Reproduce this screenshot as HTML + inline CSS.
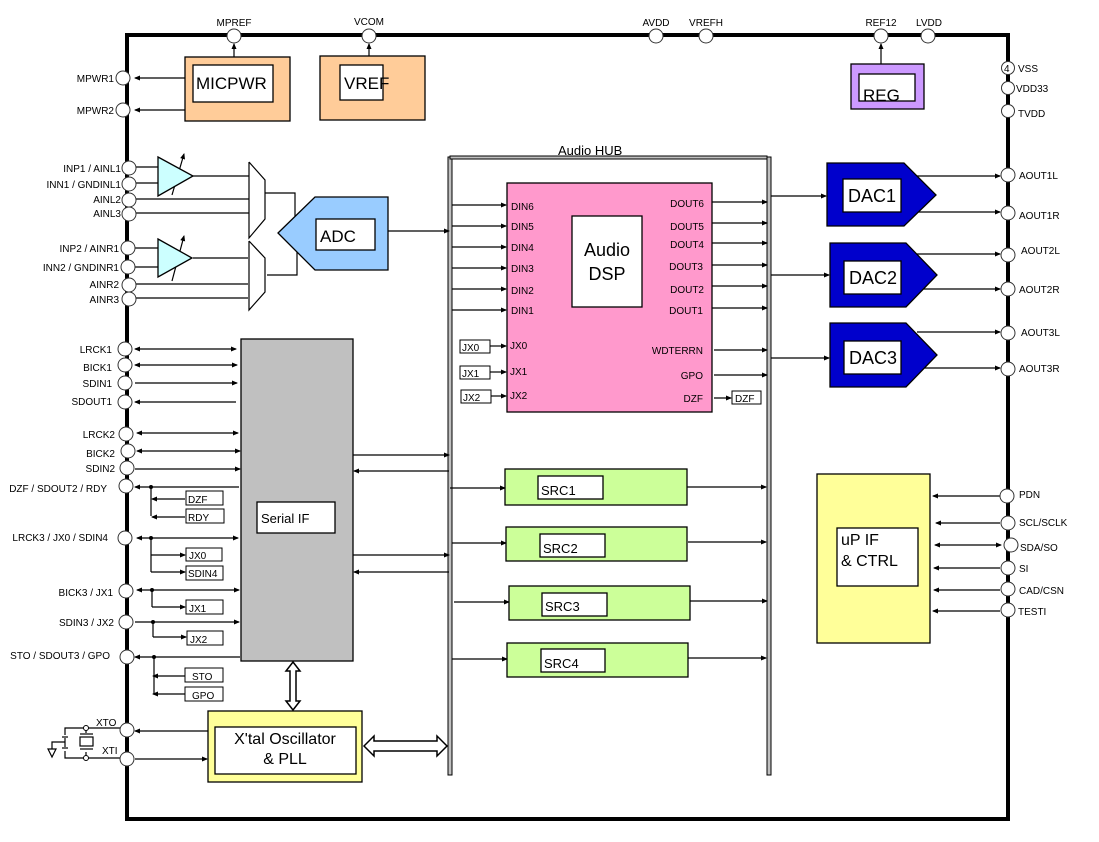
<!DOCTYPE html>
<html><head><meta charset="utf-8"><style>
html,body{margin:0;padding:0;background:#fff}
svg{display:block}
text{font-family:"Liberation Sans",sans-serif;fill:#000}
.s{font-size:10px}
.m{font-size:11px}
</style></head><body>
<svg width="1099" height="842" viewBox="0 0 1099 842" xmlns="http://www.w3.org/2000/svg">
<defs>
<marker id="a" markerWidth="6" markerHeight="6" refX="5" refY="3" orient="auto" markerUnits="userSpaceOnUse"><path d="M0,0.5 L6,3 L0,5.5z" fill="#000"/></marker>
<marker id="b" markerWidth="6" markerHeight="6" refX="1" refY="3" orient="auto" markerUnits="userSpaceOnUse"><path d="M6,0.5 L0,3 L6,5.5z" fill="#000"/></marker>
</defs>
<!-- chip border -->
<rect x="127" y="35" width="881" height="784" fill="none" stroke="#000" stroke-width="4"/>

<!-- audio hub -->
<rect x="448" y="157" width="4" height="618" fill="#c0c0c0" stroke="#000" stroke-width="1"/>
<rect x="767" y="157" width="4" height="618" fill="#c0c0c0" stroke="#000" stroke-width="1"/>
<rect x="450" y="156" width="317" height="3" fill="#c0c0c0" stroke="#000" stroke-width="1"/>
<text x="558" y="155" font-size="13">Audio HUB</text>

<g stroke="#000" stroke-width="1.2" fill="none">
<!-- top pin arrows -->
<line x1="234" y1="57" x2="234" y2="44" marker-end="url(#a)"/>
<line x1="369" y1="56" x2="369" y2="44" marker-end="url(#a)"/>
<line x1="881" y1="65" x2="881" y2="44" marker-end="url(#a)"/>
<!-- MICPWR -> MPWR -->
<line x1="185" y1="78" x2="135" y2="78" marker-end="url(#a)"/>
<line x1="185" y1="110" x2="135" y2="110" marker-end="url(#a)"/>
<!-- analog inputs -->
<line x1="135" y1="167" x2="158" y2="167"/>
<line x1="135" y1="183" x2="158" y2="183"/>
<line x1="193" y1="176" x2="249" y2="176"/>
<line x1="135" y1="199" x2="249" y2="199"/>
<line x1="135" y1="213" x2="249" y2="213"/>
<line x1="135" y1="248" x2="158" y2="248"/>
<line x1="135" y1="267" x2="158" y2="267"/>
<line x1="193" y1="258" x2="248" y2="258"/>
<line x1="135" y1="284" x2="248" y2="284"/>
<line x1="135" y1="298" x2="248" y2="298"/>
<!-- mux -->
<polyline points="249,162 265,180 265,219 249,238 249,162"/>
<polyline points="249,241 265,258 265,292 249,310 249,241"/>
<polyline points="265,193 295,193 295,221"/>
<polyline points="267,275 297,275 297,250"/>
<!-- gain arrows -->
<line x1="172" y1="195" x2="184" y2="154" marker-end="url(#a)"/>
<line x1="172" y1="281" x2="184" y2="236" marker-end="url(#a)"/>
<!-- ADC to hub -->
<line x1="388" y1="231" x2="449" y2="231" marker-end="url(#a)"/>
<!-- serial left -->
<line x1="135" y1="349" x2="236" y2="349" marker-start="url(#b)" marker-end="url(#a)"/>
<line x1="135" y1="365" x2="237" y2="365" marker-start="url(#b)" marker-end="url(#a)"/>
<line x1="135" y1="383" x2="237" y2="383" marker-end="url(#a)"/>
<line x1="236" y1="402" x2="135" y2="402" marker-end="url(#a)"/>
<line x1="137" y1="433" x2="238" y2="433" marker-start="url(#b)" marker-end="url(#a)"/>
<line x1="137" y1="451" x2="240" y2="451" marker-start="url(#b)" marker-end="url(#a)"/>
<line x1="135" y1="469" x2="240" y2="469" marker-end="url(#a)"/>
<line x1="239" y1="487" x2="135" y2="487" marker-end="url(#a)"/>
<polyline points="151,487 151,516"/>
<line x1="185" y1="499" x2="152" y2="499" marker-end="url(#a)"/>
<line x1="185" y1="517" x2="152" y2="517" marker-end="url(#a)"/>
<line x1="137" y1="538" x2="238" y2="538" marker-start="url(#b)" marker-end="url(#a)"/>
<polyline points="151,538 151,572"/>
<line x1="151" y1="555" x2="185" y2="555" marker-end="url(#a)"/>
<line x1="151" y1="572" x2="185" y2="572" marker-end="url(#a)"/>
<line x1="137" y1="590" x2="239" y2="590" marker-start="url(#b)" marker-end="url(#a)"/>
<polyline points="152,590 152,607"/>
<line x1="152" y1="607" x2="185" y2="607" marker-end="url(#a)"/>
<line x1="135" y1="622" x2="239" y2="622" marker-end="url(#a)"/>
<polyline points="153,622 153,637"/>
<line x1="153" y1="637" x2="186" y2="637" marker-end="url(#a)"/>
<line x1="240" y1="657" x2="135" y2="657" marker-end="url(#a)"/>
<polyline points="154,657 154,694"/>
<line x1="185" y1="676" x2="153" y2="676" marker-end="url(#a)"/>
<line x1="185" y1="694" x2="153" y2="694" marker-end="url(#a)"/>
<!-- xtal -->
<line x1="208" y1="731" x2="135" y2="731" marker-end="url(#a)"/>
<line x1="135" y1="759" x2="207" y2="759" marker-end="url(#a)"/>
<polyline points="121,728 86,728 65,728 65,735"/>
<polyline points="121,758 86,758 65,758 65,751"/>
<line x1="86" y1="728" x2="86" y2="733"/>
<line x1="86" y1="752" x2="86" y2="758"/>
<rect x="80" y="737" width="13" height="9"/>
<line x1="80" y1="734" x2="93" y2="734"/><line x1="80" y1="749" x2="93" y2="749"/>
<line x1="62" y1="737" x2="68" y2="737"/><line x1="62" y1="748" x2="68" y2="748"/>
<polyline points="65,738 65,747"/>
<polyline points="65,742 52,742 52,749"/>
<polygon points="48,749 56,749 52,757"/>
<!-- serial to hub -->
<line x1="353" y1="455" x2="449" y2="455" marker-end="url(#a)"/>
<line x1="449" y1="471" x2="354" y2="471" marker-end="url(#a)"/>
<line x1="353" y1="555" x2="449" y2="555" marker-end="url(#a)"/>
<line x1="449" y1="572" x2="354" y2="572" marker-end="url(#a)"/>
<!-- DIN -->
<line x1="452" y1="205" x2="506" y2="205" marker-end="url(#a)"/>
<line x1="452" y1="226" x2="506" y2="226" marker-end="url(#a)"/>
<line x1="452" y1="247" x2="506" y2="247" marker-end="url(#a)"/>
<line x1="452" y1="268" x2="506" y2="268" marker-end="url(#a)"/>
<line x1="452" y1="289" x2="506" y2="289" marker-end="url(#a)"/>
<line x1="452" y1="310" x2="506" y2="310" marker-end="url(#a)"/>
<line x1="490" y1="346" x2="506" y2="346" marker-end="url(#a)"/>
<line x1="490" y1="372" x2="506" y2="372" marker-end="url(#a)"/>
<line x1="491" y1="396" x2="506" y2="396" marker-end="url(#a)"/>
<!-- DOUT -->
<line x1="712" y1="202" x2="767" y2="202" marker-end="url(#a)"/>
<line x1="712" y1="223" x2="767" y2="223" marker-end="url(#a)"/>
<line x1="712" y1="243" x2="767" y2="243" marker-end="url(#a)"/>
<line x1="712" y1="265" x2="767" y2="265" marker-end="url(#a)"/>
<line x1="712" y1="286" x2="767" y2="286" marker-end="url(#a)"/>
<line x1="712" y1="308" x2="767" y2="308" marker-end="url(#a)"/>
<line x1="714" y1="350" x2="767" y2="350" marker-end="url(#a)"/>
<line x1="714" y1="375" x2="767" y2="375" marker-end="url(#a)"/>
<line x1="714" y1="398" x2="731" y2="398" marker-end="url(#a)"/>
<!-- hub to DAC -->
<line x1="771" y1="196" x2="826" y2="196" marker-end="url(#a)"/>
<line x1="771" y1="275" x2="829" y2="275" marker-end="url(#a)"/>
<line x1="771" y1="358" x2="829" y2="358" marker-end="url(#a)"/>
<!-- DAC outputs -->
<line x1="917" y1="176" x2="1000" y2="176" marker-end="url(#a)"/>
<line x1="917" y1="212" x2="1000" y2="212" marker-end="url(#a)"/>
<line x1="917" y1="254" x2="1000" y2="254" marker-end="url(#a)"/>
<line x1="922" y1="289" x2="1000" y2="289" marker-end="url(#a)"/>
<line x1="917" y1="332" x2="1000" y2="332" marker-end="url(#a)"/>
<line x1="917" y1="368" x2="1000" y2="368" marker-end="url(#a)"/>
<!-- SRC -->
<line x1="450" y1="488" x2="505" y2="488" marker-end="url(#a)"/>
<line x1="687" y1="487" x2="766" y2="487" marker-end="url(#a)"/>
<line x1="452" y1="543" x2="506" y2="543" marker-end="url(#a)"/>
<line x1="688" y1="542" x2="766" y2="542" marker-end="url(#a)"/>
<line x1="454" y1="602" x2="509" y2="602" marker-end="url(#a)"/>
<line x1="690" y1="601" x2="767" y2="601" marker-end="url(#a)"/>
<line x1="452" y1="659" x2="507" y2="659" marker-end="url(#a)"/>
<line x1="688" y1="658" x2="766" y2="658" marker-end="url(#a)"/>
<!-- uP -->
<line x1="1000" y1="496" x2="933" y2="496" marker-end="url(#a)"/>
<line x1="1000" y1="523" x2="936" y2="523" marker-end="url(#a)"/>
<line x1="935" y1="545" x2="1001" y2="545" marker-start="url(#b)" marker-end="url(#a)"/>
<line x1="1000" y1="568" x2="934" y2="568" marker-end="url(#a)"/>
<line x1="1000" y1="590" x2="934" y2="590" marker-end="url(#a)"/>
<line x1="1000" y1="611" x2="933" y2="611" marker-end="url(#a)"/>
</g>
<g fill="#000">
<circle cx="151" cy="487" r="2"/><circle cx="151" cy="538" r="2"/><circle cx="152" cy="590" r="2"/><circle cx="153" cy="622" r="2"/><circle cx="154" cy="657" r="2"/>
<circle cx="86" cy="728" r="2.5" fill="#fff" stroke="#000"/><circle cx="86" cy="758" r="2.5" fill="#fff" stroke="#000"/>
</g>

<!-- blocks -->
<g stroke="#000" stroke-width="1.3">
<rect x="185" y="57" width="105" height="64" fill="#ffcc99"/>
<rect x="193" y="65" width="80" height="37" fill="#fff"/>
<rect x="320" y="56" width="105" height="64" fill="#ffcc99"/>
<rect x="340" y="65" width="43" height="35" fill="#fff"/>
<rect x="851" y="64" width="73" height="45" fill="#cc99ff"/>
<rect x="859" y="74" width="56" height="27" fill="#fff"/>
<polygon points="158,157 193,176 158,196" fill="#ccffff"/>
<polygon points="158,239 192,258 158,277" fill="#ccffff"/>
<polygon points="278,233 315,197 388,197 388,270 315,270" fill="#99ccff"/>
<rect x="316" y="219" width="59" height="31" fill="#fff"/>
<rect x="241" y="339" width="112" height="322" fill="#c0c0c0"/>
<rect x="257" y="502" width="78" height="31" fill="#fff"/>
<rect x="208" y="711" width="154" height="71" fill="#ffff99"/>
<rect x="215" y="727" width="141" height="47" fill="#fff"/>
<rect x="507" y="183" width="205" height="229" fill="#ff99cc"/>
<rect x="572" y="216" width="70" height="91" fill="#fff"/>
<rect x="505" y="469" width="182" height="36" fill="#ccff99"/>
<rect x="538" y="476" width="65" height="23" fill="#fff"/>
<rect x="506" y="527" width="181" height="34" fill="#ccff99"/>
<rect x="540" y="534" width="65" height="23" fill="#fff"/>
<rect x="509" y="586" width="181" height="34" fill="#ccff99"/>
<rect x="542" y="593" width="65" height="23" fill="#fff"/>
<rect x="507" y="643" width="181" height="34" fill="#ccff99"/>
<rect x="541" y="649" width="64" height="23" fill="#fff"/>
<polygon points="827,163 904,163 936,195 904,226 827,226" fill="#0000cc"/>
<rect x="843" y="179" width="58" height="33" fill="#fff"/>
<polygon points="830,243 906,243 937,275 906,307 830,307" fill="#0000cc"/>
<rect x="844" y="261" width="57" height="33" fill="#fff"/>
<polygon points="830,323 906,323 937,355 906,387 830,387" fill="#0000cc"/>
<rect x="844" y="341" width="57" height="33" fill="#fff"/>
<rect x="817" y="474" width="113" height="169" fill="#ffff99"/>
<rect x="837" y="528" width="81" height="58" fill="#fff"/>
<!-- small label boxes -->
<g fill="#fff" stroke-width="1">
<rect x="186" y="491" width="37" height="14"/><rect x="186" y="509" width="38" height="14"/>
<rect x="186" y="548" width="36" height="13"/><rect x="186" y="566" width="37" height="14"/>
<rect x="186" y="600" width="37" height="14"/><rect x="187" y="631" width="36" height="14"/>
<rect x="185" y="668" width="38" height="14"/><rect x="185" y="687" width="38" height="14"/>
<rect x="460" y="340" width="30" height="13"/><rect x="460" y="366" width="30" height="13"/><rect x="461" y="390" width="30" height="13"/>
<rect x="732" y="391" width="29" height="13"/>
</g>
</g>
<!-- double arrows -->
<polygon points="293,662 300,671 296,671 296,701 300,701 293,710 286,701 290,701 290,671 286,671" fill="#fff" stroke="#000" stroke-width="1.5"/>
<polygon points="364,746 374,736 374,741 437,741 437,736 447,746 437,756 437,751 374,751 374,756" fill="#fff" stroke="#000" stroke-width="1.5"/>

<!-- pins -->
<g fill="#fff" stroke="#333" stroke-width="1">
<circle cx="234" cy="36" r="7"/><circle cx="369" cy="36" r="7"/><circle cx="656" cy="36" r="7"/><circle cx="706" cy="36" r="7"/><circle cx="881" cy="36" r="7"/><circle cx="928" cy="36" r="7"/>
<circle cx="123" cy="78" r="7"/><circle cx="123" cy="110" r="7"/>
<circle cx="129" cy="168" r="7"/><circle cx="129" cy="184" r="7"/><circle cx="129" cy="200" r="7"/><circle cx="129" cy="214" r="7"/>
<circle cx="128" cy="248" r="7"/><circle cx="128" cy="267" r="7"/><circle cx="129" cy="285" r="7"/><circle cx="129" cy="299" r="7"/>
<circle cx="125" cy="349" r="7"/><circle cx="125" cy="365" r="7"/><circle cx="125" cy="383" r="7"/><circle cx="125" cy="402" r="7"/>
<circle cx="126" cy="434" r="7"/><circle cx="128" cy="451" r="7"/><circle cx="127" cy="468" r="7"/><circle cx="126" cy="486" r="7"/>
<circle cx="125" cy="538" r="7"/><circle cx="126" cy="591" r="7"/><circle cx="126" cy="622" r="7"/><circle cx="127" cy="657" r="7"/>
<circle cx="127" cy="730" r="7"/><circle cx="127" cy="759" r="7"/>
<circle cx="1008" cy="68" r="6.5"/><circle cx="1008" cy="88" r="6.5"/><circle cx="1008" cy="111" r="6.5"/>
<circle cx="1008" cy="175" r="7"/><circle cx="1008" cy="213" r="7"/><circle cx="1008" cy="255" r="7"/><circle cx="1008" cy="289" r="7"/><circle cx="1008" cy="333" r="7"/><circle cx="1008" cy="369" r="7"/>
<circle cx="1007" cy="496" r="7"/><circle cx="1008" cy="523" r="7"/><circle cx="1011" cy="545" r="7"/><circle cx="1008" cy="568" r="7"/><circle cx="1008" cy="589" r="7"/><circle cx="1008" cy="610" r="7"/>
</g>

<!-- pin labels -->
<g class="s">
<text x="234" y="26" text-anchor="middle">MPREF</text>
<text x="369" y="25" text-anchor="middle">VCOM</text>
<text x="656" y="26" text-anchor="middle">AVDD</text>
<text x="706" y="26" text-anchor="middle">VREFH</text>
<text x="881" y="26" text-anchor="middle">REF12</text>
<text x="929" y="26" text-anchor="middle">LVDD</text>
<text x="114" y="82" text-anchor="end">MPWR1</text>
<text x="114" y="114" text-anchor="end">MPWR2</text>
<text x="121" y="172" text-anchor="end">INP1  / AINL1</text>
<text x="121" y="188" text-anchor="end">INN1  / GNDINL1</text>
<text x="121" y="203" text-anchor="end">AINL2</text>
<text x="121" y="217" text-anchor="end">AINL3</text>
<text x="119" y="252" text-anchor="end">INP2  / AINR1</text>
<text x="119" y="271" text-anchor="end">INN2  / GNDINR1</text>
<text x="119" y="288" text-anchor="end">AINR2</text>
<text x="119" y="303" text-anchor="end">AINR3</text>
<text x="112" y="353" text-anchor="end">LRCK1</text>
<text x="112" y="371" text-anchor="end">BICK1</text>
<text x="112" y="387" text-anchor="end">SDIN1</text>
<text x="112" y="405" text-anchor="end">SDOUT1</text>
<text x="115" y="438" text-anchor="end">LRCK2</text>
<text x="115" y="457" text-anchor="end">BICK2</text>
<text x="115" y="472" text-anchor="end">SDIN2</text>
<text x="107" y="492" text-anchor="end">DZF / SDOUT2  / RDY</text>
<text x="108" y="541" text-anchor="end">LRCK3  / JX0 / SDIN4</text>
<text x="113" y="596" text-anchor="end">BICK3  / JX1</text>
<text x="114" y="626" text-anchor="end">SDIN3  / JX2</text>
<text x="110" y="659" text-anchor="end">STO  / SDOUT3  / GPO</text>
<text x="96" y="726">XTO</text>
<text x="102" y="754">XTI</text>
<text x="1018" y="72">VSS</text>
<text x="1016" y="92">VDD33</text>
<text x="1018" y="117">TVDD</text>
<text x="1019" y="179">AOUT1L</text>
<text x="1019" y="219">AOUT1R</text>
<text x="1021" y="254">AOUT2L</text>
<text x="1019" y="293">AOUT2R</text>
<text x="1021" y="336">AOUT3L</text>
<text x="1019" y="372">AOUT3R</text>
<text x="1019" y="498">PDN</text>
<text x="1019" y="526">SCL/SCLK</text>
<text x="1020" y="551">SDA/SO</text>
<text x="1019" y="572">SI</text>
<text x="1019" y="594">CAD/CSN</text>
<text x="1018" y="615">TESTI</text>
<text x="1004" y="72" font-size="10">4</text>
<text x="511" y="210">DIN6</text><text x="511" y="230">DIN5</text><text x="511" y="251">DIN4</text>
<text x="511" y="272">DIN3</text><text x="511" y="294">DIN2</text><text x="511" y="314">DIN1</text>
<text x="510" y="349">JX0</text><text x="510" y="375">JX1</text><text x="510" y="399">JX2</text>
<text x="704" y="207" text-anchor="end">DOUT6</text><text x="704" y="230" text-anchor="end">DOUT5</text>
<text x="704" y="248" text-anchor="end">DOUT4</text><text x="703" y="270" text-anchor="end">DOUT3</text>
<text x="704" y="293" text-anchor="end">DOUT2</text><text x="703" y="314" text-anchor="end">DOUT1</text>
<text x="703" y="354" text-anchor="end">WDTERRN</text><text x="703" y="379" text-anchor="end">GPO</text>
<text x="703" y="402" text-anchor="end">DZF</text>
<text x="462" y="351">JX0</text><text x="462" y="377">JX1</text><text x="463" y="401">JX2</text>
<text x="735" y="402">DZF</text>
<text x="188" y="503">DZF</text><text x="188" y="521">RDY</text>
<text x="189" y="559">JX0</text><text x="188" y="577">SDIN4</text>
<text x="189" y="612">JX1</text><text x="190" y="643">JX2</text>
<text x="192" y="680">STO</text><text x="192" y="699">GPO</text>
</g>

<!-- block labels -->
<text x="196" y="89" font-size="17">MICPWR</text>
<text x="344" y="89" font-size="17">VREF</text>
<text x="863" y="101" font-size="17">REG</text>
<text x="320" y="242" font-size="17">ADC</text>
<text x="261" y="523" font-size="13">Serial IF</text>
<text x="285" y="744" font-size="16" text-anchor="middle">X'tal Oscillator</text>
<text x="285" y="764" font-size="16" text-anchor="middle">&amp; PLL</text>
<text x="607" y="256" font-size="18" text-anchor="middle">Audio</text>
<text x="607" y="280" font-size="18" text-anchor="middle">DSP</text>
<text x="541" y="495" font-size="13">SRC1</text>
<text x="543" y="553" font-size="13">SRC2</text>
<text x="545" y="611" font-size="13">SRC3</text>
<text x="544" y="668" font-size="13">SRC4</text>
<text x="848" y="202" font-size="18">DAC1</text>
<text x="849" y="284" font-size="18">DAC2</text>
<text x="849" y="364" font-size="18">DAC3</text>
<text x="841" y="545" font-size="16">uP IF</text>
<text x="841" y="566" font-size="16">&amp; CTRL</text>
</svg>
</body></html>
